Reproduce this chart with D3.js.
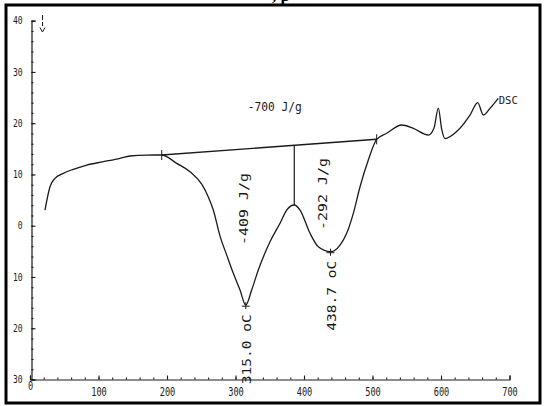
<!DOCTYPE html>
<html><head><meta charset="utf-8">
<script src="https://cdn.jsdelivr.net/npm/d3@7"></script>
<style>body{margin:0;background:#fff} svg{display:block}</style>
</head><body>
<svg id="c" width="544" height="406"></svg>
<script>
// ---- data ----
const temps = [21.9, 29.2, 36.5, 48.6, 63.2, 82.8, 107.0, 131.4, 146.0, 170.4, 192.3, 214.2, 233.6, 250.7, 260.3, 267.6, 277.4, 287.2, 296.8, 306.6, 315.0, 323.6, 333.3, 350.4, 365.0, 374.7, 385.8, 394.2, 408.8, 420.9, 438.7, 452.6, 462.3, 472.0, 481.8, 493.9, 506.1, 520.7, 542.6, 559.6, 581.5, 589.8, 596.1, 601.0, 605.8, 622.9, 642.3, 653.6, 661.8, 671.5, 683.6];
const dsc   = [3.06, 7.61, 9.25, 10.22, 11.0, 11.84, 12.49, 13.15, 13.6, 13.79, 13.8, 12.17, 10.53, 8.1, 5.6, 3.06, -2.03, -5.73, -9.29, -12.54, -15.5, -12.54, -8.64, -3.12, 0.47, 3.06, 4.04, 3.06, -1.48, -4.10, -5.07, -3.77, -1.48, 2.42, 7.61, 12.82, 16.86, 18.03, 19.65, 19.0, 17.69, 19.06, 22.96, 18.86, 17.01, 18.38, 21.6, 24.03, 21.6, 22.9, 24.85];
const xTicks = [0, 100, 200, 300, 400, 500, 600, 700];
const yTicks = [40, 30, 20, 10, 0, -10, -20, -30];
const baselineT = [192.3, 506.1];
const baselineV = [13.8, 16.86];
const splitT = 385.8, splitV = 4.04;
const peakT = [315.0, 438.7];
const peakV = [-15.5, -5.07];
const peakLabels = ["315.0 oC", "438.7 oC"];
const areaT = [312.4, 427.7];
const areaV = [3.26, 6.18];
const areaLabels = ["-409 J/g", "-292 J/g"];
const totalLabel = "-700 J/g", totalT = 318, totalV = 22.4;
const seriesName = "DSC";

// ---- layout ----
const svg = d3.select("#c");
const x = d3.scaleLinear([0, 700], [30, 509.5]);
const y = d3.scaleLinear([-30, 40], [379.5, 20.7]);
const ink = "#1a1a1a";
const mono = "DejaVu Sans Mono, monospace";

// frame
svg.append("rect").attr("x", 6).attr("y", 5).attr("width", 534).attr("height", 398)
  .attr("fill", "none").attr("stroke", "#000").attr("stroke-width", 3);

// title fragment (cut off at top, as in the reference)
svg.append("text").attr("x", 272).attr("y", 1)
  .attr("font-family", "Liberation Serif, serif").attr("font-weight", "bold").attr("font-size", 17)
  .text(", p");

function squeeze(sel, perChar) {
  sel.attr("textLength", function () { return this.textContent.length * perChar; })
     .attr("lengthAdjust", "spacingAndGlyphs");
}

// y axis (major)
const gy = svg.append("g").attr("transform", `translate(${x(0)+1.5},0)`)
  .call(d3.axisLeft(y).tickValues(yTicks).tickSize(-4).tickPadding(9).tickFormat(d => Math.abs(d)));
gy.select(".domain").attr("stroke", ink).attr("stroke-width", 1.2);
gy.selectAll(".tick line").attr("stroke", ink).attr("stroke-width", 1.1);
gy.selectAll(".tick text").attr("font-family", mono).attr("font-size", 10).attr("fill", ink).call(squeeze, 4.8);
// y minor
const gy2 = svg.append("g").attr("transform", `translate(${x(0)+1.5},0)`)
  .call(d3.axisLeft(y).tickValues(d3.range(-30, 41, 2)).tickSize(-2).tickFormat(""));
gy2.select(".domain").remove();
gy2.selectAll(".tick line").attr("stroke", ink).attr("stroke-width", 1.1);

// x axis (major)
const gx = svg.append("g").attr("transform", `translate(0,${y(-30)})`)
  .call(d3.axisBottom(x).tickValues(xTicks).tickSize(-4).tickPadding(8.5));
gx.select(".domain").attr("stroke", ink).attr("stroke-width", 1.2);
gx.selectAll(".tick line").attr("stroke", ink).attr("stroke-width", 1.1);
gx.selectAll(".tick text").attr("font-family", mono).attr("font-size", 11.5).attr("fill", ink).call(squeeze, 5.2);
gx.selectAll(".tick text").filter(d => d === 0).attr("y", 2.5);
// x minor
const gx2 = svg.append("g").attr("transform", `translate(0,${y(-30)})`)
  .call(d3.axisBottom(x).tickValues(d3.range(0, 681, 20)).tickSize(-2).tickFormat(""));
gx2.select(".domain").remove();
gx2.selectAll(".tick line").attr("stroke", ink).attr("stroke-width", 1.1);

// direction arrow near top
svg.append("path").attr("d", "M42.5,15V20M42.5,22V26").attr("stroke", ink).attr("stroke-width", 1);
svg.append("path").attr("d", "M40,27.5L42.5,32L45,27.5").attr("stroke", ink).attr("fill", "none").attr("stroke-width", 1);

// curve
const pts = temps.map((t, i) => [t, dsc[i]]);
const line = d3.line().x(d => x(d[0])).y(d => y(d[1])).curve(d3.curveMonotoneX);
svg.append("path").attr("d", line(pts)).attr("fill", "none").attr("stroke", ink).attr("stroke-width", 1.3);

// baseline
svg.append("line").attr("x1", x(baselineT[0])).attr("y1", y(baselineV[0]))
  .attr("x2", x(baselineT[1])).attr("y2", y(baselineV[1])).attr("stroke", ink).attr("stroke-width", 1.4);
baselineT.forEach((t, i) => {
  svg.append("line").attr("x1", x(t)).attr("x2", x(t)).attr("y1", y(baselineV[i]) - 5).attr("y2", y(baselineV[i]) + 5)
    .attr("stroke", ink).attr("stroke-width", 1);
});
// split line
const splitTop = baselineV[0] + (splitT - baselineT[0]) / (baselineT[1] - baselineT[0]) * (baselineV[1] - baselineV[0]);
svg.append("line").attr("x1", x(splitT)).attr("x2", x(splitT)).attr("y1", y(splitTop)).attr("y2", y(splitV))
  .attr("stroke", ink).attr("stroke-width", 1.2);

// rotated text, anchored at its start (bottom end)
function vtext(cx, bottom, len, str) {
  svg.append("text").attr("transform", `translate(${cx},${bottom}) rotate(-90)`)
    .attr("text-anchor", "start").attr("dominant-baseline", "central")
    .attr("font-family", mono).attr("font-size", 11.5).attr("fill", ink)
    .attr("textLength", len).attr("lengthAdjust", "spacingAndGlyphs").text(str);
}

// peak markers and labels
peakT.forEach((t, i) => {
  const px = x(t), py = y(peakV[i]);
  svg.append("path").attr("d", `M${px-4},${py+1}H${px+4}M${px},${py-3}V${py+4}`).attr("stroke", ink).attr("stroke-width", 1);
  vtext(px + 1, py + 79, 70, peakLabels[i]);
});
areaT.forEach((t, i) => {
  vtext(x(t), y(areaV[i]) + 36, 72, areaLabels[i]);
});
svg.append("text").attr("x", x(totalT)).attr("y", y(totalV))
  .attr("font-family", mono).attr("font-size", 11.5).attr("fill", ink)
  .attr("textLength", 54).attr("lengthAdjust", "spacingAndGlyphs").text(totalLabel);

// series label
svg.append("text").attr("x", x(temps[temps.length-1]) + 0.5).attr("y", y(dsc[dsc.length-1]) + 2)
  .attr("dominant-baseline", "central")
  .attr("font-family", mono).attr("font-size", 10.5).attr("fill", ink)
  .attr("textLength", 19).attr("lengthAdjust", "spacingAndGlyphs").text(seriesName);
</script>
</body></html>
